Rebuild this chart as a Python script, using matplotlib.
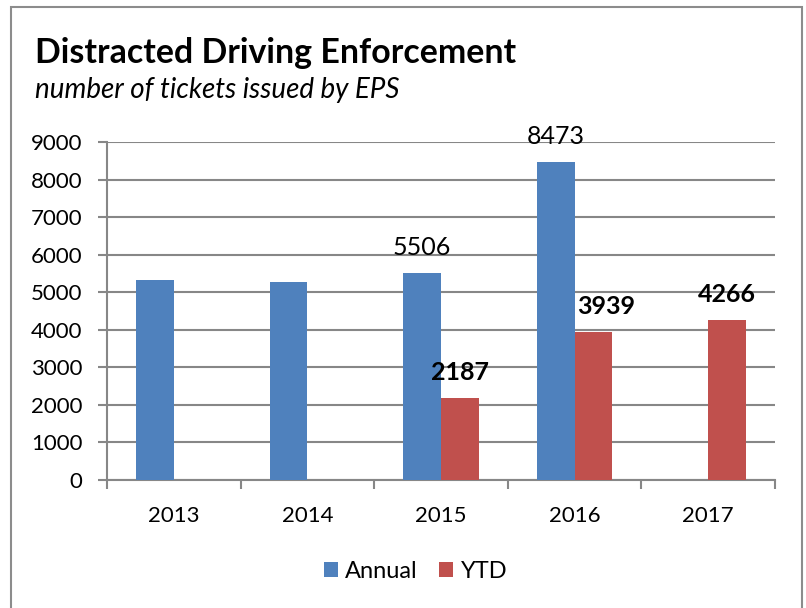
import numpy as np
import matplotlib
matplotlib.use("Agg")
import matplotlib.pyplot as plt
from matplotlib.patches import Rectangle

plt.rcParams['font.family'] = ['Lato', 'DejaVu Sans']

years = ["2013", "2014", "2015", "2016", "2017"]
annual = [5330, 5285, 5506, 8473, np.nan]
ytd = [np.nan, np.nan, 2187, 3939, 4266]

blue = "#4F81BD"
red = "#C0504D"
grid_c = "#878787"

fig = plt.figure(figsize=(8.06, 6.08), dpi=100)
ax = fig.add_axes([0.1328, 0.2105, 0.8288, 0.5559])

x = np.arange(len(years))
w = 0.282
ax.bar(x - w / 2, annual, w, color=blue, label="Annual", zorder=3)
ax.bar(x + w / 2, ytd, w, color=red, label="YTD", zorder=3)

ax.set_xlim(-0.5, len(years) - 0.5)
ax.set_ylim(0, 9000)
ax.set_yticks(np.arange(0, 9001, 1000))
ax.set_xticks(x)
ax.set_xticklabels(years)
ax.set_xticks(np.arange(-0.5, len(years), 1), minor=True)
ax.tick_params(axis='x', which='major', length=0, pad=19, labelsize=16)
ax.tick_params(axis='x', which='minor', length=6.5, width=1.5, color=grid_c, direction='out')
ax.tick_params(axis='y', length=6.5, width=1.5, color=grid_c, labelsize=16, pad=11)
ax.yaxis.grid(True, color=grid_c, linewidth=1.5, zorder=0)
for s in ['top', 'right']:
    ax.spines[s].set_visible(False)
for s in ['left', 'bottom']:
    ax.spines[s].set_color(grid_c)
    ax.spines[s].set_linewidth(1.5)

# labels for 2015/2016 annual (normal) and all YTD (bold)
for i in [2, 3]:
    ax.annotate(str(annual[i]), (x[i] - w / 2, annual[i]), xytext=(0, 10),
                textcoords='offset points', ha='center', va='bottom', fontsize=18)
ytd_dx = {2: 0, 3: 9, 4: 0}
for i, dx in ytd_dx.items():
    ax.annotate(str(ytd[i]), (x[i] + w / 2, ytd[i]), xytext=(dx, 10),
                textcoords='offset points', ha='center', va='bottom', fontsize=18,
                fontweight='bold')

fig.text(35 / 806, 1 - 63 / 608, "Distracted Driving Enforcement", fontsize=24.4,
         fontweight='bold', ha='left', va='baseline')
fig.text(35 / 806, 1 - 98 / 608, "number of tickets issued by EPS", fontsize=20,
         style='italic', ha='left', va='baseline')

ax.legend(loc='center', bbox_to_anchor=(0.462, -0.27), ncol=2, frameon=False,
          fontsize=17, handlelength=0.6, handleheight=0.6, handletextpad=0.3,
          columnspacing=0.9)

fig.patches.append(Rectangle((11 / 806, -0.05), 791 / 806, 1 - 7 / 608 + 0.05,
                             transform=fig.transFigure, fill=False,
                             edgecolor="#8c8c8c", linewidth=1.5))

fig.savefig("out.png", dpi=100)
